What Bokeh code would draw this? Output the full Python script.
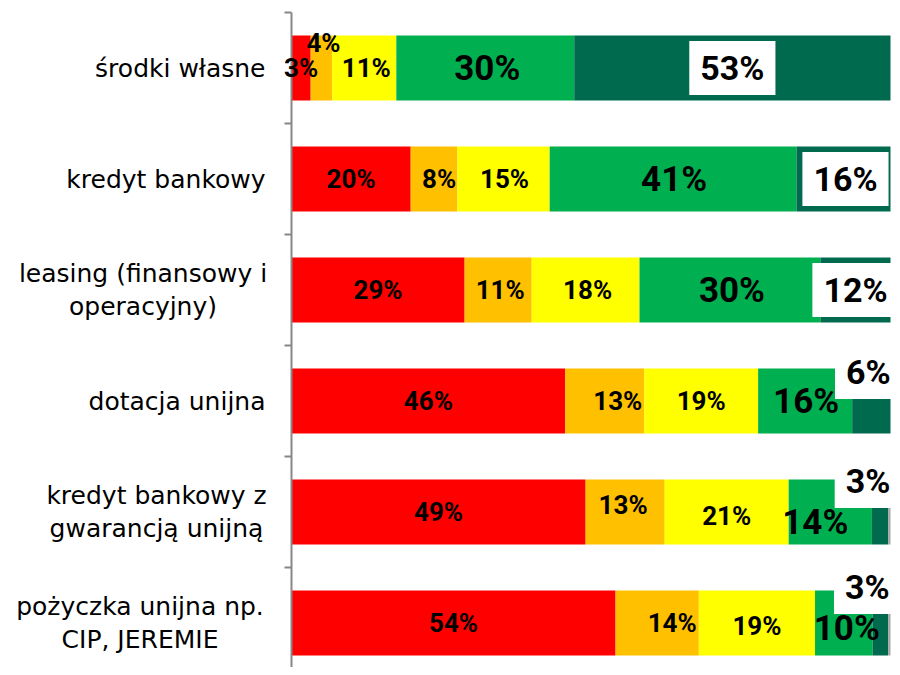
import numpy as np
from bokeh.plotting import figure
from bokeh.models import Range1d, Label
from bokeh.embed import file_html
from bokeh.resources import INLINE

# ---------------- data ----------------
categories = [
    "środki własne",
    "kredyt bankowy",
    "leasing (finansowy i\noperacyjny)",
    "dotacja unijna",
    "kredyt bankowy z\ngwarancją unijną",
    "pożyczka unijna np.\nCIP, JEREMIE",
]
red_vals = [3.2, 19.9, 28.9, 45.7, 49.1, 54.1]
orange_vals = [3.6, 7.8, 11.2, 13.2, 13.2, 13.9]
yellow_vals = [10.7, 15.4, 18.0, 19.0, 20.7, 19.4]
green_vals = [29.7, 41.2, 30.2, 15.7, 13.9, 9.6]
dark_vals = [52.8, 15.7, 11.7, 6.4, 2.7, 2.6]
grey_vals = [0.0, 0.0, 0.0, 0.0, 0.4, 0.4]

series = [red_vals, orange_vals, yellow_vals, green_vals, dark_vals, grey_vals]
colors = ["#FF0000", "#FFC000", "#FFFF00", "#00B050", "#006A4F", "#A6A6A6"]

n = len(categories)
ys = [n - 0.5 - i for i in range(n)]

# ---------------- figure (frame covers whole canvas) ----------------
W, H = 892, 667
AXIS_PX = 291          # screen x of the value axis (0 %)
PX_PER_UNIT = 5.99     # screen px per 1 %
TOP_PX = 12            # screen y of the top category boundary
BAND_PX = 111          # screen px per category band

x_range = Range1d(-AXIS_PX / PX_PER_UNIT, (W - AXIS_PX) / PX_PER_UNIT)
y_range = Range1d(n - (H - TOP_PX) / BAND_PX, n + TOP_PX / BAND_PX)

p = figure(width=W, height=H, output_backend="svg", toolbar_location=None,
           x_range=x_range, y_range=y_range,
           x_axis_location=None, y_axis_location=None,
           min_border=0, min_border_left=0, min_border_right=0,
           min_border_top=0, min_border_bottom=0)
p.outline_line_color = None
p.xgrid.visible = False
p.ygrid.visible = False
p.background_fill_color = "white"
p.border_fill_color = "white"

# ---------------- bars ----------------
arr = np.array(series, dtype=float)
rights = np.cumsum(arr, axis=0)
lefts = rights - arr
bar_h = 65 / BAND_PX
for k in range(len(series)):
    p.hbar(y=ys, left=list(lefts[k]), right=list(rights[k]), height=bar_h,
           fill_color=colors[k], line_color=None)

# ---------------- category axis (line + boundary ticks) ----------------
bounds = list(range(n + 1))
p.segment(x0=[0], y0=[y_range.start], x1=[0], y1=[n],
          line_color="#878787", line_width=2)
p.segment(x0=[-7 / PX_PER_UNIT] * len(bounds), y0=bounds,
          x1=[0] * len(bounds), y1=bounds,
          line_color="#878787", line_width=2)

# ---------------- data labels ----------------
sizes = ["26px", "26px", "26px", "35px", "34px"]
# per-label nudges (px): (dx, dy) with dy positive = up
nudges = [
    [(0, 0), (2, 25), (2, 0), (2, 0), (0, 0)],
    [(0, 0), (5, 0), (1, 0), (1, 0), (2, 0)],
    [(0, 0), (2, 0), (2, 0), (2, 0), (0, 0)],
    [(0, 0), (13, 0), (0, 0), (1, 0), (-3, 29)],
    [(0, 0), (-2, 7), (0, -4), (-15, -10), (-12, 31)],
    [(0, 0), (15, 0), (0, -3), (3, -5), (-13, 36)],
]
has_padding = "padding" in Label.properties()
for i in range(n):
    for k in range(5):
        v = series[k][i]
        cx = (lefts[k][i] + rights[k][i]) / 2
        dx, dy = nudges[i][k]
        kw = dict(x=cx, y=ys[i], x_offset=dx, y_offset=dy, text=f"{v:.0f}%",
                  text_align="center", text_baseline="middle",
                  text_font="Roboto", text_font_style="bold",
                  text_font_size=sizes[k], text_color="#000000")
        if k == 4:
            kw["background_fill_color"] = "white"
            if has_padding:
                kw["padding"] = (11, 7)
        p.add_layout(Label(**kw))

# ---------------- category labels ----------------
cat_align = ["right", "right", "center", "right", "center", "center"]
cat_dx = [-26, -26, -148.5, -26, -135, -151.5]
for i in range(n):
    p.add_layout(Label(x=0, y=ys[i], x_offset=cat_dx[i], text=categories[i],
                       text_align=cat_align[i], text_baseline="middle",
                       text_font="DejaVu Sans", text_font_size="25px",
                       text_color="#000000", text_line_height=1.15))

open("out.html", "w").write(file_html(p, INLINE))
